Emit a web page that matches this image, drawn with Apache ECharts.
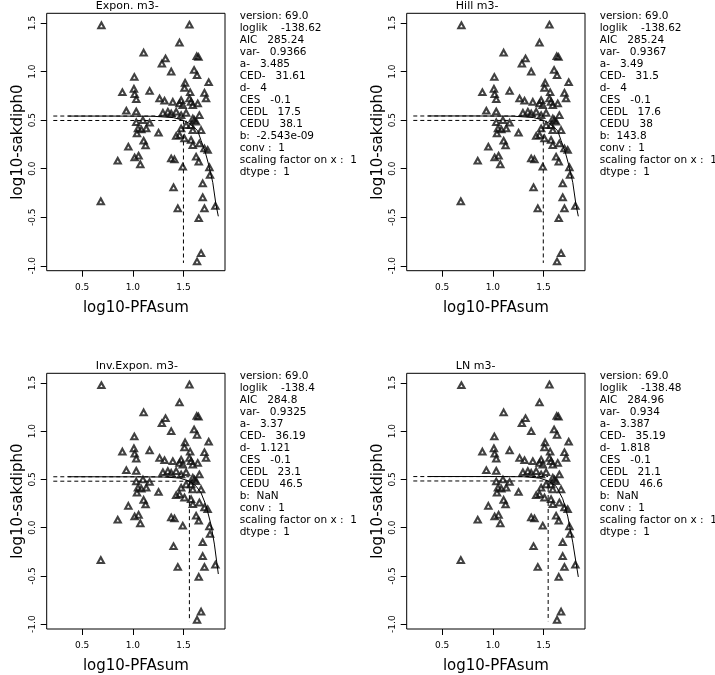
<!DOCTYPE html>
<html>
<head>
<meta charset="utf-8">
<script src="https://cdn.jsdelivr.net/npm/echarts@6/dist/echarts.min.js"></script>
<style>html,body{margin:0;padding:0;background:#fff;}#c{width:715px;height:675px;}</style>
</head>
<body>
<div id="c"></div>
<script>
// ---- data ----
const pointsX = [0.690,1.559,1.461,1.107,1.323,1.287,1.631,1.648,1.379,1.605,1.634,1.015,1.749,1.516,1.510,0.897,1.011,1.018,1.034,1.166,1.707,1.723,1.264,1.313,1.395,1.477,1.461,1.493,1.559,1.575,1.592,1.641,1.566,0.936,1.034,1.297,1.346,1.379,1.428,1.477,1.526,1.592,1.625,1.657,1.575,1.608,1.034,1.100,1.166,1.051,1.084,1.133,1.041,1.254,1.107,1.126,0.956,1.477,1.461,1.510,1.592,1.575,1.674,1.526,1.428,1.592,1.657,1.707,1.739,0.851,1.018,1.057,1.074,1.379,1.411,1.625,1.651,1.493,1.756,1.762,1.690,1.402,1.690,0.684,1.815,1.444,1.707,1.651,1.674,1.634];
const pointsY = [1.476,1.483,1.298,1.195,1.134,1.082,1.158,1.151,1.000,1.017,0.962,0.945,0.890,0.884,0.832,0.788,0.822,0.767,0.716,0.801,0.781,0.723,0.723,0.699,0.688,0.705,0.671,0.654,0.723,0.688,0.654,0.671,0.788,0.596,0.589,0.575,0.586,0.568,0.586,0.551,0.575,0.517,0.483,0.551,0.449,0.500,0.479,0.500,0.473,0.414,0.404,0.414,0.363,0.370,0.288,0.240,0.226,0.414,0.346,0.312,0.397,0.295,0.397,0.449,0.336,0.243,0.260,0.209,0.192,0.082,0.116,0.133,0.045,0.106,0.096,0.123,0.072,0.021,0.014,-0.065,-0.151,-0.192,-0.295,-0.336,-0.384,-0.408,-0.408,-0.510,-0.870,-0.955];

const panelTitles = ["Expon. m3-", "Hill m3-", "Inv.Expon. m3-", "LN m3-"];
const aValues = [3.485, 3.49, 3.37, 3.387];
const cedValues = [31.61, 31.5, 36.19, 35.19];
const cesValue = -0.1;

const expCurveX = [0.362,0.8,1.2,1.4,1.5,1.56,1.61,1.641,1.674,1.71,1.749,1.789,1.821,1.844];
const expCurveY = [0.542,0.542,0.540,0.526,0.498,0.465,0.42,0.39,0.29,0.19,0.04,-0.14,-0.37,-0.49];
const hillCurveX = [0.362,0.8,1.2,1.4,1.5,1.56,1.61,1.641,1.674,1.71,1.749,1.789,1.821,1.844];
const hillCurveY = [0.543,0.543,0.541,0.527,0.499,0.466,0.42,0.39,0.29,0.19,0.04,-0.14,-0.37,-0.49];
const invExpCurveX = [0.362,1.0,1.3,1.461,1.559,1.625,1.674,1.723,1.772,1.805,1.844];
const invExpCurveY = [0.528,0.527,0.525,0.515,0.482,0.43,0.36,0.23,0.03,-0.17,-0.48];
const lnCurveX = [0.362,1.0,1.3,1.46,1.546,1.625,1.69,1.739,1.789,1.821,1.844];
const lnCurveY = [0.530,0.530,0.528,0.515,0.484,0.43,0.30,0.12,-0.15,-0.36,-0.51];

const xTicks = [0.5, 1.0, 1.5];
const yTicks = [-1.0, -0.5, 0.0, 0.5, 1.0, 1.5];
const refLineStartX = 0.215;
const refLineBottomY = -0.97;

const infoTexts = [
 ["version: 69.0","loglik    -138.62","AIC   285.24","var-   0.9366","a-   3.485","CED-   31.61","d-   4","CES   -0.1","CEDL   17.5","CEDU   38.1","b:  -2.543e-09","conv :  1","scaling factor on x :  1","dtype :  1"],
 ["version: 69.0","loglik    -138.62","AIC   285.24","var-   0.9367","a-   3.49","CED-   31.5","d-   4","CES   -0.1","CEDL   17.6","CEDU   38","b:  143.8","conv :  1","scaling factor on x :  1","dtype :  1"],
 ["version: 69.0","loglik    -138.4","AIC   284.8","var-   0.9325","a-   3.37","CED-   36.19","d-   1.121","CES   -0.1","CEDL   23.1","CEDU   46.5","b:  NaN","conv :  1","scaling factor on x :  1","dtype :  1"],
 ["version: 69.0","loglik    -138.48","AIC   284.96","var-   0.934","a-   3.387","CED-   35.19","d-   1.818","CES   -0.1","CEDL   21.1","CEDU   46.6","b:  NaN","conv :  1","scaling factor on x :  1","dtype :  1"]
];

// ---- layout ----
const FONT = '"DejaVu Sans", sans-serif';
const panelLeft = [46.7, 406.7, 46.7, 406.7];
const panelTop = [13.3, 13.3, 373.3, 373.3];
const panelW = 178.3, panelH = 257.4;
const curves = [[expCurveX, expCurveY],[hillCurveX, hillCurveY],[invExpCurveX, invExpCurveY],[lnCurveX, lnCurveY]];

const pts = pointsX.map((x, i) => [x, pointsY[i]]);
const grids = [], xAxes = [], yAxes = [], series = [], graphics = [];

for (let p = 0; p < 4; p++) {
  grids.push({left: panelLeft[p], top: panelTop[p], width: panelW, height: panelH, show: true, borderColor: '#000', borderWidth: 1, backgroundColor: 'transparent'});
  xAxes.push({
    type: 'value', gridIndex: p, min: 0.15, max: 1.91,
    name: 'log10-PFAsum', nameLocation: 'middle', nameGap: 30,
    nameTextStyle: {fontFamily: FONT, fontSize: 15, color: '#000'},
    axisLine: {show: false, onZero: false}, splitLine: {show: false},
    axisTick: {show: true, length: 6, lineStyle: {color: '#000'}, customValues: xTicks},
    axisLabel: {fontFamily: FONT, fontSize: 9, color: '#000', margin: 12, customValues: xTicks, formatter: v => v.toFixed(1)}
  });
  yAxes.push({
    type: 'value', gridIndex: p, min: -1.05, max: 1.6,
    name: 'log10-sakdiph0', nameLocation: 'middle', nameGap: 21,
    nameTextStyle: {fontFamily: FONT, fontSize: 15, color: '#000'},
    axisLine: {show: false, onZero: false}, splitLine: {show: false},
    axisTick: {show: true, length: 6, lineStyle: {color: '#000'}, customValues: yTicks},
    axisLabel: {fontFamily: FONT, fontSize: 9, color: '#000', margin: 10, rotate: 90, customValues: yTicks, formatter: v => v.toFixed(1)}
  });
  const bg = Math.log10(aValues[p]);
  const cesLevel = Math.log10(aValues[p] * (1 + cesValue));
  const cedX = Math.log10(cedValues[p]);
  const dashStyle = {color: '#000', width: 1, type: [4, 3]};
  const common = {xAxisIndex: p, yAxisIndex: p, showSymbol: false, silent: true, animation: false};
  series.push(Object.assign({type: 'line', data: [[refLineStartX, bg], [cedX, bg]], lineStyle: dashStyle}, common));
  series.push(Object.assign({type: 'line', data: [[refLineStartX, cesLevel], [cedX, cesLevel]], lineStyle: dashStyle}, common));
  series.push(Object.assign({type: 'line', data: [[cedX, cesLevel], [cedX, refLineBottomY]], lineStyle: dashStyle}, common));
  const cx = curves[p][0], cy = curves[p][1];
  series.push(Object.assign({type: 'line', data: cx.map((x, i) => [x, cy[i]]), lineStyle: {color: '#000', width: 1}}, common));
  series.push({type: 'scatter', xAxisIndex: p, yAxisIndex: p, data: pts, symbol: 'triangle', symbolSize: [6.2, 5.6],
    itemStyle: {color: 'rgba(0,0,0,0)', borderColor: '#111', borderWidth: 2.1}, silent: true, animation: false});

  graphics.push({type: 'text', left: panelLeft[p] + panelW / 2 - 40, top: panelTop[p] - 13,
    style: {text: panelTitles[p], font: '11px ' + FONT, fill: '#000', align: 'center', width: 80}});
  graphics.push({type: 'text', x: panelLeft[p] + 193, y: panelTop[p] - 3,
    style: {text: infoTexts[p].join('\n'), font: '10.5px ' + FONT, fill: '#000', lineHeight: 12}});
}

const chart = echarts.init(document.getElementById('c'), null, {renderer: 'canvas'});
chart.setOption({
  animation: false,
  backgroundColor: '#fff',
  grid: grids, xAxis: xAxes, yAxis: yAxes, series: series, graphic: graphics
});
</script>
</body>
</html>
